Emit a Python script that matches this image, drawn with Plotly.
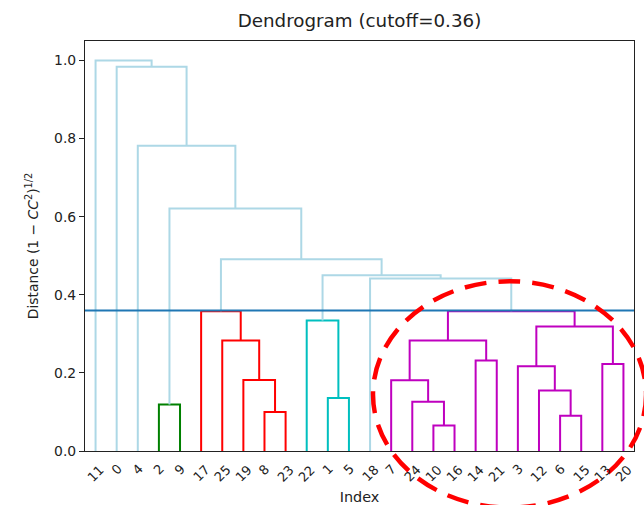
import plotly.graph_objects as go

# ---- data -------------------------------------------------------------
title_text = "Dendrogram (cutoff=0.36)"
cutoff = 0.36

# leaves in the order they appear along the x axis
leaf_order = [11, 0, 4, 2, 9, 17, 25, 19, 8, 23, 22, 1, 5, 18,
              7, 24, 10, 16, 14, 21, 3, 12, 6, 15, 13, 20]

# agglomeration steps: children are leaf ids ("7") or earlier steps ("#3")
merge_left = ["2", "8", "19", "25", "17", "1", "22", "10", "24", "7",
              "14", "#9", "6", "12", "3", "13", "#14", "#11", "18", "#6",
              "#4", "#0", "4", "0", "11"]
merge_right = ["9", "23", "#1", "#2", "#3", "5", "#5", "16", "#7", "#8",
               "21", "#10", "15", "#12", "#13", "20", "#15", "#16", "#17", "#18",
               "#19", "#20", "#21", "#22", "#23"]
merge_height = [0.119, 0.100, 0.182, 0.283, 0.358, 0.136, 0.334, 0.065, 0.126, 0.181,
                0.232, 0.283, 0.090, 0.155, 0.217, 0.223, 0.319, 0.358, 0.442, 0.450,
                0.491, 0.621, 0.782, 0.984, 1.000]

y_ticks = [0.0, 0.2, 0.4, 0.6, 0.8, 1.0]

# ---- styling ----------------------------------------------------------
cluster_palette = ["#008000", "#ff0000", "#00bfbf", "#bf00bf"]
above_color = "#add8e6"
cutoff_color = "#1f77b4"
font_family = "DejaVu Sans"

# ---- layout of the tree ------------------------------------------------
leaf_x = {str(leaf): 5 + 10 * i for i, leaf in enumerate(leaf_order)}
x_max = 10 * len(leaf_order)
y_max = max(merge_height) * 1.05

node_x, node_h = {}, {}


def pos(ref):
    if ref.startswith("#"):
        return node_x[ref], node_h[ref]
    return leaf_x[ref], 0.0


parent = {}
for i, (l, r, h) in enumerate(zip(merge_left, merge_right, merge_height)):
    key = f"#{i}"
    node_x[key] = (pos(l)[0] + pos(r)[0]) / 2
    node_h[key] = h
    for c in (l, r):
        if c.startswith("#"):
            parent[c] = key

# clusters: highest steps below the cutoff, coloured left to right
roots = [k for k in node_h
         if node_h[k] < cutoff and (k not in parent or node_h[parent[k]] >= cutoff)]
roots.sort(key=lambda k: node_x[k])
root_color = {k: cluster_palette[i % len(cluster_palette)] for i, k in enumerate(roots)}


def link_color(key):
    if node_h[key] >= cutoff:
        return above_color
    k = key
    while k not in root_color:
        k = parent[k]
    return root_color[k]


segments = {}
for i, (l, r, h) in enumerate(zip(merge_left, merge_right, merge_height)):
    key = f"#{i}"
    (xl, hl), (xr, hr) = pos(l), pos(r)
    xs, ys = segments.setdefault(link_color(key), ([], []))
    xs += [xl, xl, xr, xr, None]
    ys += [hl, h, h, hr, None]

fig = go.Figure()
for color, (xs, ys) in segments.items():
    fig.add_trace(go.Scatter(x=xs, y=ys, mode="lines",
                             line=dict(color=color, width=2),
                             hoverinfo="skip", showlegend=False))

# horizontal cutoff line
fig.add_trace(go.Scatter(x=[0, x_max], y=[cutoff, cutoff], mode="lines",
                         line=dict(color=cutoff_color, width=2),
                         hoverinfo="skip", showlegend=False))

# leaf labels, rotated and centred under each leaf
for leaf in leaf_order:
    fig.add_annotation(x=leaf_x[str(leaf)], y=0, xref="x", yref="paper",
                       text=str(leaf), showarrow=False, textangle=-45,
                       xanchor="center", yanchor="top", yshift=-8,
                       font=dict(family=font_family, size=13, color="#222222"))

# dashed ellipse highlighting the right-hand cluster
fig.add_shape(type="circle", xref="paper", yref="paper",
              x0=0.5246, x1=1.022, y0=-0.138, y1=0.414,
              line=dict(color="#ff0000", width=4.5, dash="22px,12px"),
              layer="above")

fig.update_layout(
    width=644, height=505,
    margin=dict(l=85, r=10, t=41, b=54, autoexpand=False),
    paper_bgcolor="white", plot_bgcolor="white",
    font=dict(family=font_family, size=14, color="#222222"),
    title=dict(text=title_text, x=0.5, xref="paper", xanchor="center",
               y=1 - 21 / 505, yanchor="middle",
               font=dict(family=font_family, size=18.3, color="#222222")),
    xaxis=dict(range=[0, x_max], showticklabels=False, ticks="",
               showgrid=False, zeroline=False, automargin=False,
               showline=True, mirror=True, linecolor="#222222", linewidth=1.1,
               title=dict(text="Index", standoff=40,
                          font=dict(family=font_family, size=14.4))),
    yaxis=dict(range=[0, y_max], tickvals=y_ticks,
               ticktext=[f"{v:.1f}" for v in y_ticks],
               ticks="outside", ticklen=5, tickwidth=1.1, tickcolor="#222222",
               tickfont=dict(family=font_family, size=13.9),
               showgrid=False, zeroline=False, automargin=False,
               showline=True, mirror=True, linecolor="#222222", linewidth=1.1,
               title=dict(text="Distance (1 − <i>CC</i><sup>2</sup>)<sup>1/2</sup>",
                          standoff=12,
                          font=dict(family=font_family, size=13.9))),
)

fig.write_html("out.html")
